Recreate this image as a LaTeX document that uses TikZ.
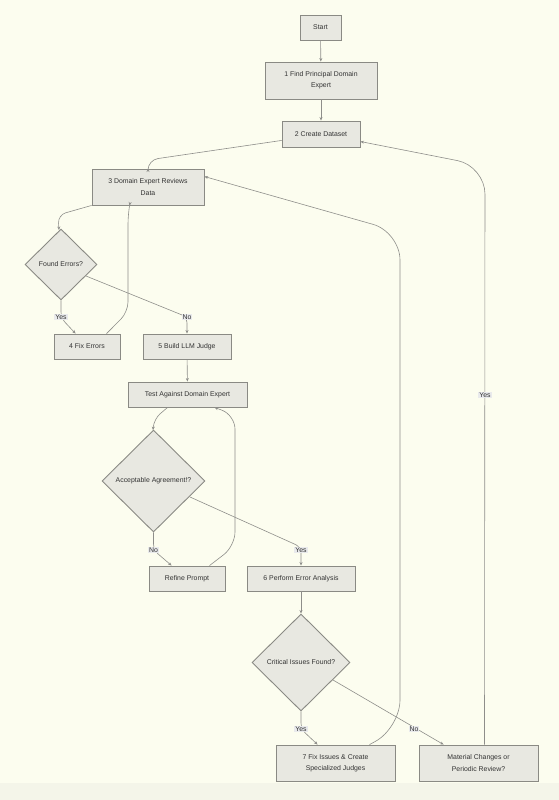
\documentclass[tikz,border=0pt]{standalone}
\usepackage{fontspec}
\setmainfont{Liberation Sans}
\usetikzlibrary{shapes.geometric,arrows.meta,calc}
\definecolor{bg}{HTML}{FCFDEF}
\definecolor{bgb}{HTML}{F4F5E9}
\definecolor{nodefill}{HTML}{E8E8E1}
\definecolor{nodeborder}{HTML}{8A8A84}
\definecolor{edgec}{HTML}{8E8E8A}
\definecolor{textc}{HTML}{333333}
\definecolor{lblfill}{HTML}{E9EAEC}
\begin{document}
\begin{tikzpicture}[x=1pt,y=-1pt,
  font=\fontsize{6.9}{11.3}\selectfont,
  box/.style={draw=nodeborder, fill=nodefill, line width=0.9pt, inner sep=0pt, align=center, text=textc},
  dia/.style={diamond, draw=nodeborder, fill=nodefill, line width=0.9pt, inner sep=0pt, align=center, text=textc},
  edge/.style={draw=edgec, line width=0.6pt, rounded corners=10pt, -{Stealth[length=3.5pt,width=3pt]}},
  lbl/.style={fill=lblfill, text=textc, inner sep=1pt}]
\fill[bg] (0,0) rectangle (559,800);
\fill[bgb] (0,783) rectangle (559,800);
\useasboundingbox (0,0) rectangle (559,800);

\node[box, minimum width=41pt, minimum height=25pt] (s) at (320.5,27.5) {Start};
\node[box, minimum width=112pt, minimum height=37pt] (n1) at (321,80.5) {1 Find Principal Domain\\Expert};
\node[box, minimum width=78pt, minimum height=26pt] (n2) at (321,134) {2 Create Dataset};
\node[box, minimum width=112pt, minimum height=36pt] (n3) at (148,187) {3 Domain Expert Reviews\\Data};
\node[dia, minimum width=72pt, minimum height=71pt] (d1) at (61,264.5) {Found Errors?};
\node[box, minimum width=66pt, minimum height=25pt] (n4) at (87,346.5) {4 Fix Errors};
\node[box, minimum width=88pt, minimum height=25pt] (n5) at (187,346.5) {5 Build LLM Judge};
\node[box, minimum width=119pt, minimum height=25pt] (nt) at (187.5,394.5) {Test Against Domain Expert};
\node[dia, minimum width=103pt, minimum height=102pt] (d2) at (153.5,481) {Acceptable Agreement!?};
\node[box, minimum width=76pt, minimum height=25pt] (nr) at (187,578.5) {Refine Prompt};
\node[box, minimum width=108pt, minimum height=25pt] (n6) at (301,578.5) {6 Perform Error Analysis};
\node[dia, minimum width=98pt, minimum height=97pt] (d3) at (301,662.5) {Critical Issues Found?};
\node[box, minimum width=119pt, minimum height=36pt] (n7) at (335.5,763) {7 Fix Issues \& Create\\Specialized Judges};
\node[box, minimum width=119pt, minimum height=36pt] (n8) at (478.5,763) {Material Changes or\\Periodic Review?};

% edges
\draw[edge] (s) -- (n1);
\draw[edge] (n1) -- (n2);
\draw[edge] ($(n2.south west)+(0,-7)$) -- (148,160) -- (n3.north);
\draw[edge, rounded corners=8pt] (n3.south west) -- (58,215) -- ($(d1.north)+(-2,1.5)$);
\draw[edge, rounded corners=6pt] (d1.south) -- (61,318) -- ($(n4.north west)+(22,0)$);
\draw[edge, rounded corners=6pt] (86,276) -- (187,317) -- (n5.north);
\draw[edge] ($(n4.north west)+(53,0)$) -- (128,312) -- (128,214) -- ($(n3.south west)+(38,0)$);
\draw[edge] (n5) -- (nt);
\draw[edge, rounded corners=8pt] ($(nt.south west)+(40,0)$) -- (154,419) -- ($(d2.north)+(-0.5,0.5)$);
\draw[edge, rounded corners=6pt] (d2.south) -- (153.5,550) -- ($(nr.north west)+(23,0)$);
\draw[edge, rounded corners=6pt] (190,497) -- (301,547) -- (n6.north);
\draw[edge, rounded corners=14pt] ($(nr.north west)+(61,0)$) -- (235,546) -- (235,415) -- ($(nt.south west)+(87,0)$);
\draw[edge] (n6) -- (d3);
\draw[edge, rounded corners=6pt] (d3.south) -- (301,729) -- ($(n7.north west)+(42,0)$);
\draw[edge] (333,680) -- ($(n8.north west)+(25,0)$);
\draw[edge, rounded corners=28pt] ($(n7.north west)+(94,0)$) -- (400,728) -- (400,232) -- ($(n3.north east)+(0,8)$);
\draw[edge, rounded corners=28pt] ($(n8.north)+(6,0)$) -- (485,166) -- ($(n2.north east)+(0,21)$);

% labels
\node[lbl] (l1) at (61,317) {Yes};
\node[lbl] (l2) at (187,317) {No};
\node[lbl] (l3) at (153.5,550) {No};
\node[lbl] (l4) at (301,550) {Yes};
\node[lbl] (l5) at (301,729) {Yes};
\node[lbl] (l6) at (414,729) {No};
\node[lbl] (l7) at (485,395) {Yes};
\end{tikzpicture}
\end{document}
